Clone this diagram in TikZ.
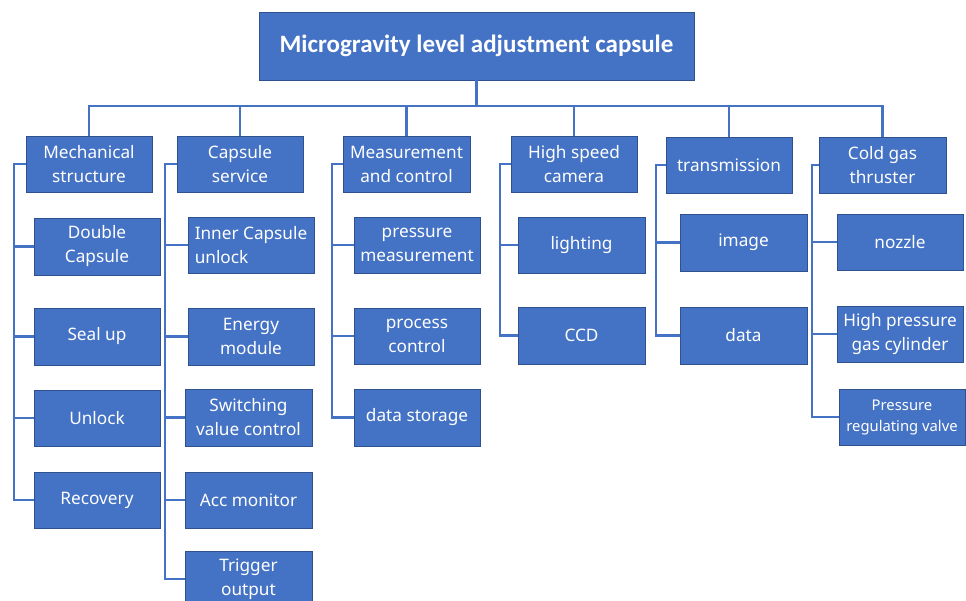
\documentclass[tikz,border=0pt]{standalone}
\usepackage{fontspec}
\setmainfont{Noto Sans}
\newfontfamily\titlefont{Carlito}
\definecolor{boxblue}{HTML}{4472C4}
\definecolor{edgeblue}{HTML}{2F528F}
\begin{document}
\begin{tikzpicture}[x=1pt,y=-1pt,
  box/.style={draw=edgeblue,line width=0.6pt,fill=boxblue,text=white,inner sep=0pt,
    minimum width=126pt,minimum height=56pt,align=center,
    font=\fontsize{17.2}{24}\selectfont},
  link/.style={draw=boxblue,line width=2.8pt}]
\useasboundingbox (0,0) rectangle (966,601);
\begin{scope}
\clip (0,0) rectangle (966,601);
% top
\node[box,minimum width=435pt,minimum height=68pt,font=\titlefont\bfseries\fontsize{25}{28}\selectfont] (top) at (476.5,46) {Microgravity level adjustment capsule};
% level 1
\node[box] (m1) at (89,164) {Mechanical\\structure};
\node[box] (m2) at (240,164) {Capsule\\service};
\node[box,minimum width=127pt] (m3) at (406.5,164) {Measurement\\and control};
\node[box] (m4) at (574,164) {High speed\\camera};
\node[box] (m5) at (729,165) {transmission};
\node[box,minimum width=127pt] (m6) at (882.5,165) {Cold gas\\thruster};
% level 2
\node[box,minimum height=57pt] (c11) at (97,246.5) {Double\\Capsule};
\node[box,minimum height=57pt] (c12) at (97,336.5) {Seal up};
\node[box] (c13) at (97,418) {Unlock};
\node[box] (c14) at (97,500) {Recovery};
\node[box,align=left] (c21) at (251,245) {Inner Capsule\\unlock};
\node[box,minimum height=57pt] (c22) at (251,336.5) {Energy\\module};
\node[box,minimum width=127pt,minimum height=57pt] (c23) at (248.5,417.5) {Switching\\value control};
\node[box,minimum width=127pt] (c24) at (248.5,500) {Acc monitor};
\node[box,minimum width=127pt] (c25) at (248.5,579) {Trigger\\output};
\node[box] (c31) at (417,245) {pressure\\measurement};
\node[box] (c32) at (417,336) {process\\control};
\node[box,minimum height=57pt] (c33) at (417,417.5) {data storage};
\node[box,minimum width=127pt] (c41) at (581.5,245) {lighting};
\node[box,minimum width=127pt,minimum height=57pt] (c42) at (581.5,335.5) {CCD};
\node[box,minimum width=127pt,minimum height=57pt] (c51) at (743.5,242.5) {image};
\node[box,minimum width=127pt,minimum height=57pt] (c52) at (743.5,335.5) {data};
\node[box] (c61) at (900,242) {nozzle};
\node[box] (c62) at (900,334) {High pressure\\gas cylinder};
\node[box,font=\fontsize{14.8}{21}\selectfont] (c63) at (902,417) {Pressure\\regulating valve};
% bus
\coordinate (bus) at (0,106);
\draw[link] (top.south) -- (top.south |- bus);
\draw[link] (m1.north) -- (m1.north |- bus) -- (m6.north |- bus) -- (m6.north);
\foreach \n in {m2,m3,m4,m5} \draw[link] (\n.north) -- (\n.north |- bus);
% branches
\coordinate (s1) at (14,0);
\coordinate (s2) at (165,0);
\coordinate (s3) at (332,0);
\coordinate (s4) at (500,0);
\coordinate (s5) at (656,0);
\coordinate (s6) at (812,0);
\draw[link] (m1.west) -- (m1.west -| s1) |- (c14.west);
\foreach \c in {c11,c12,c13} \draw[link] (\c.west) -- (\c.west -| s1);
\draw[link] (m2.west) -- (m2.west -| s2) |- (c25.west);
\foreach \c in {c21,c22,c23,c24} \draw[link] (\c.west) -- (\c.west -| s2);
\draw[link] (m3.west) -- (m3.west -| s3) |- (c33.west);
\foreach \c in {c31,c32} \draw[link] (\c.west) -- (\c.west -| s3);
\draw[link] (m4.west) -- (m4.west -| s4) |- (c42.west);
\draw[link] (c41.west) -- (c41.west -| s4);
\draw[link] (m5.west) -- (m5.west -| s5) |- (c52.west);
\draw[link] (c51.west) -- (c51.west -| s5);
\draw[link] (m6.west) -- (m6.west -| s6) |- (c63.west);
\foreach \c in {c61,c62} \draw[link] (\c.west) -- (\c.west -| s6);
\end{scope}
\end{tikzpicture}
\end{document}
